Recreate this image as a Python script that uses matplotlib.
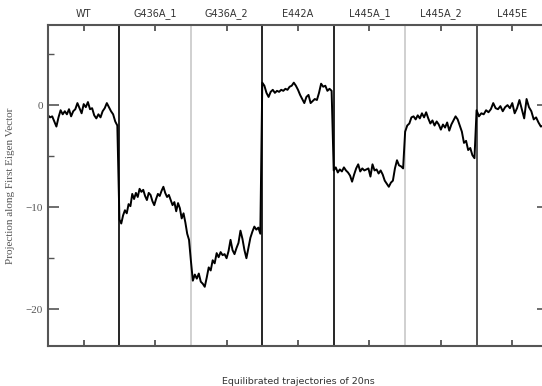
import numpy as np
import matplotlib
matplotlib.use("Agg")
import matplotlib.pyplot as plt
from matplotlib.ticker import FixedLocator

# projection on first eigen vector, one 20 ns block per system
systems = ["WT", "G436A_1", "G436A_2", "E442A", "L445A_1", "L445A_2", "L445E"]

wt = [-1.0, -1.2, -1.1, -1.6, -2.1, -1.2, -0.5, -0.9, -0.6, -0.9, -0.4, -1.1,
      -0.6, -0.4, 0.2, -0.3, -0.8, 0.1, -0.2, 0.3, -0.4, -0.3, -1.0, -1.3,
      -0.9, -1.2, -0.6, -0.3, 0.2, -0.2, -0.6, -0.9, -1.6, -2.0]
g436a_1 = [-11.2, -11.6, -10.8, -10.3, -10.6, -9.7, -9.9, -8.7, -9.2, -8.6,
           -9.0, -8.2, -8.5, -8.3, -8.9, -9.3, -8.6, -8.8, -9.4, -9.8, -9.2,
           -8.7, -8.9, -8.4, -8.0, -8.6, -9.0, -8.8, -9.3, -9.8, -9.5, -10.4,
           -9.6, -10.1, -11.1, -10.6, -11.5, -12.6, -13.2]
g436a_2 = [-15.2, -17.2, -16.6, -17.0, -16.5, -17.3, -17.5, -17.8, -16.9,
           -15.9, -16.2, -15.2, -15.5, -14.5, -14.9, -14.4, -14.7, -14.6,
           -15.0, -14.3, -13.2, -14.2, -14.6, -14.0, -13.5, -12.3, -13.1,
           -14.2, -15.0, -14.0, -13.0, -12.4, -11.9, -12.2, -12.0, -12.6]
e442a = [2.2, 1.9, 1.2, 0.8, 1.3, 1.5, 1.2, 1.4, 1.3, 1.5, 1.4, 1.6, 1.5, 1.8,
         1.9, 2.2, 1.9, 1.5, 1.0, 0.6, 0.2, 0.8, 1.0, 0.2, 0.4, 0.6, 0.5, 1.2,
         2.1, 1.8, 1.9, 1.4, 1.6, 1.4]
l445a_1 = [-6.4, -6.1, -6.6, -6.3, -6.5, -6.1, -6.4, -6.6, -6.9, -7.5, -6.8,
           -6.2, -5.8, -6.5, -6.2, -6.4, -6.3, -6.2, -7.0, -5.8, -6.4, -6.3,
           -6.7, -6.4, -6.8, -7.4, -7.7, -8.0, -7.6, -7.4, -6.2, -5.4, -5.9,
           -6.0, -6.2]
l445a_2 = [-2.6, -2.0, -1.8, -1.2, -1.1, -1.4, -1.0, -1.3, -0.8, -1.2, -0.7,
           -1.3, -1.8, -1.5, -2.0, -1.6, -1.9, -2.4, -1.9, -2.2, -1.7, -2.5,
           -1.9, -1.5, -1.1, -1.4, -2.0, -2.6, -3.7, -3.5, -4.4, -4.2, -4.9,
           -5.2]
l445e = [-0.5, -1.1, -0.8, -0.9, -0.5, -0.7, -0.4, 0.2, -0.3, -0.4, -0.1,
         -0.6, -0.2, 0.0, -0.3, 0.2, -0.8, -0.3, 0.5, -0.4, -1.3, 0.6, -0.2,
         -0.6, -1.4, -1.2, -1.7, -2.1, -2.0, -2.2]

blocks = [wt, g436a_1, g436a_2, e442a, l445a_1, l445a_2, l445e]
block_len = 20.0  # ns
divider_colors = ["black", "#c8c8c8", "black", "black", "#c8c8c8", "#333333"]

# concatenate all blocks on a common time axis
t_all = []
y_all = []
for i, vals in enumerate(blocks):
    t = np.linspace(i * block_len, (i + 1) * block_len, len(vals), endpoint=False)
    t_all.extend(t)
    y_all.extend(vals)

fig = plt.figure(figsize=(5.42, 3.86), dpi=100)
ax = fig.add_axes([48 / 542, 40 / 386, 500 / 542, 321 / 386])

for i, c in enumerate(divider_colors):
    ax.axvline((i + 1) * block_len, color=c, lw=1.2, zorder=1)

ax.plot(t_all, y_all, color="black", lw=1.4, zorder=2)

ax.set_xlim(0, block_len * len(blocks))
ax.set_ylim(-23.6, 7.85)

centers = [(i + 0.5) * block_len for i in range(len(blocks))]
ax.set_xticks(centers)
ax.set_xticklabels(systems, fontsize=7, color="#333333")
ax.tick_params(axis="x", direction="in", top=True, bottom=True,
               labeltop=True, labelbottom=False, length=4, width=1.2,
               color="#444444", pad=4)

ax.set_yticks([0, -10, -20])
ax.yaxis.set_minor_locator(FixedLocator([5, -5, -15]))
ax.tick_params(axis="y", which="major", direction="in", left=True, right=True,
               length=8, width=1.2, color="#555555", labelsize=8,
               labelcolor="#555555")
ax.tick_params(axis="y", which="minor", direction="in", left=True, right=True,
               length=4, width=1.0, color="#555555")
for lbl in ax.get_yticklabels():
    lbl.set_family("Liberation Serif")

for s in ax.spines.values():
    s.set_color("#555555")
    s.set_linewidth(1.5)

ax.set_ylabel("Projection along First Eigen Vector", family="Liberation Serif",
              fontsize=8, color="#555555", labelpad=8)
ax.set_xlabel("Equilibrated trajectories of 20ns", fontsize=6.8,
              color="#333333", labelpad=22)
ax.xaxis.set_label_position("bottom")

fig.savefig("out.png", dpi=100)
